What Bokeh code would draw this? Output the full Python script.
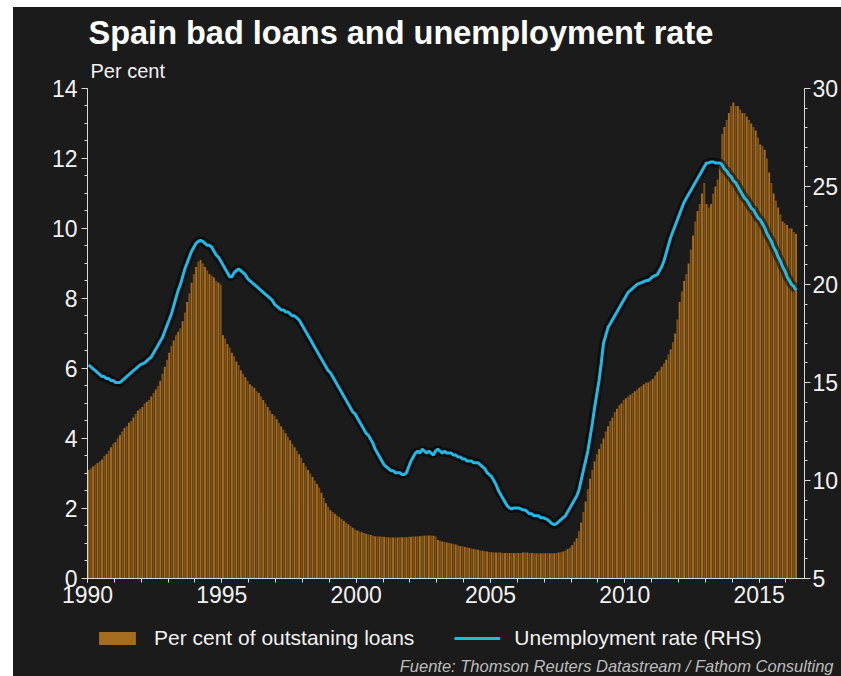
import numpy as np
from bokeh.plotting import figure
from bokeh.layouts import column
from bokeh.models import (Range1d, LinearAxis, FixedTicker, Label, Legend,
                          LegendItem, ColumnDataSource)
from bokeh.embed import file_html
from bokeh.resources import INLINE

# ---------------- data (monthly, from January 1990) ----------------
start_year = 1990
x_ticks = [1990, 1995, 2000, 2005, 2010, 2015]
left_ticks = [0, 2, 4, 6, 8, 10, 12, 14]
right_ticks = [5, 10, 15, 20, 25, 30]

# Bad loans, per cent of outstanding loans (monthly)
bad_loans_1990s = [
    3.10, 3.15, 3.20, 3.25, 3.30, 3.35, 3.40, 3.50, 3.55, 3.65, 3.75, 3.85,  # 1990
    3.90, 4.00, 4.10, 4.20, 4.30, 4.35, 4.45, 4.50, 4.60, 4.70, 4.80, 4.85,  # 1991
    4.90, 5.00, 5.05, 5.10, 5.20, 5.30, 5.40, 5.50, 5.65, 5.85, 6.05, 6.25,  # 1992
    6.45, 6.65, 6.80, 6.95, 7.05, 7.15, 7.35, 7.60, 7.90, 8.15, 8.45, 8.70,  # 1993
    8.90, 9.05, 9.10, 9.00, 8.90, 8.80, 8.70, 8.65, 8.60, 8.50, 8.45, 8.40,  # 1994
    6.95, 6.85, 6.70, 6.60, 6.45, 6.35, 6.20, 6.10, 5.95, 5.85, 5.75, 5.65,  # 1995
    5.55, 5.50, 5.45, 5.35, 5.30, 5.20, 5.10, 5.00, 4.90, 4.80, 4.70, 4.65,  # 1996
    4.55, 4.45, 4.35, 4.25, 4.15, 4.05, 3.95, 3.85, 3.75, 3.65, 3.55, 3.45,  # 1997
    3.30, 3.20, 3.10, 3.00, 2.90, 2.80, 2.70, 2.60, 2.45, 2.30, 2.15, 2.05,  # 1998
    1.95, 1.90, 1.85, 1.80, 1.75, 1.70, 1.65, 1.60, 1.55, 1.50, 1.45, 1.40,  # 1999
]
bad_loans_2000s = [
    1.37, 1.34, 1.32, 1.30, 1.28, 1.26, 1.24, 1.22, 1.21, 1.20, 1.20, 1.19,  # 2000
    1.19, 1.18, 1.18, 1.17, 1.17, 1.17, 1.17, 1.18, 1.18, 1.18, 1.18, 1.19,  # 2001
    1.19, 1.20, 1.20, 1.21, 1.21, 1.22, 1.22, 1.23, 1.23, 1.23, 1.22, 1.20,  # 2002
    1.10, 1.08, 1.06, 1.05, 1.03, 1.02, 1.00, 0.99, 0.97, 0.95, 0.93, 0.92,  # 2003
    0.90, 0.89, 0.87, 0.86, 0.84, 0.83, 0.82, 0.80, 0.79, 0.78, 0.77, 0.76,  # 2004
    0.75, 0.75, 0.74, 0.74, 0.74, 0.73, 0.73, 0.73, 0.73, 0.73, 0.73, 0.73,  # 2005
    0.73, 0.73, 0.74, 0.74, 0.74, 0.73, 0.73, 0.72, 0.72, 0.72, 0.72, 0.72,  # 2006
    0.72, 0.72, 0.72, 0.72, 0.72, 0.73, 0.74, 0.75, 0.77, 0.80, 0.84, 0.88,  # 2007
    0.95, 1.05, 1.15, 1.35, 1.60, 1.90, 2.20, 2.55, 2.85, 3.10, 3.35, 3.55,  # 2008
    3.70, 3.85, 4.00, 4.20, 4.35, 4.50, 4.60, 4.75, 4.85, 4.95, 5.00, 5.10,  # 2009
]
bad_loans_2010s = [
    5.15, 5.20, 5.25, 5.30, 5.35, 5.40, 5.45, 5.50, 5.55, 5.60, 5.60, 5.65,  # 2010
    5.70, 5.80, 5.90, 5.95, 6.05, 6.15, 6.25, 6.40, 6.55, 6.75, 7.00, 7.40,  # 2011
    7.90, 8.20, 8.50, 8.70, 9.00, 9.40, 9.80, 10.20, 10.50, 10.70, 11.00, 11.30,  # 2012
    10.70, 10.60, 10.70, 11.00, 11.20, 11.40, 11.80, 12.70, 12.90, 13.10, 13.30, 13.50,  # 2013
    13.60, 13.50, 13.50, 13.40, 13.30, 13.30, 13.20, 13.10, 13.00, 12.90, 12.80, 12.60,  # 2014
    12.40, 12.35, 12.25, 12.00, 11.60, 11.30, 11.00, 10.80, 10.60, 10.40, 10.20, 10.15,  # 2015
    10.10, 10.00, 10.00, 9.90, 9.85,                                                # 2016
]

# Unemployment rate, per cent (monthly, right-hand scale)
unemp_1990s = [
    15.9, 15.8, 15.7, 15.6, 15.5, 15.4, 15.3, 15.3, 15.2, 15.2, 15.1, 15.1,  # 1990
    15.0, 15.0, 15.0, 15.1, 15.2, 15.3, 15.4, 15.5, 15.6, 15.7, 15.8, 15.9,  # 1991
    15.95, 16.0, 16.1, 16.2, 16.3, 16.5, 16.7, 16.9, 17.1, 17.3, 17.6, 17.9,  # 1992
    18.2, 18.5, 18.9, 19.3, 19.7, 20.0, 20.4, 20.8, 21.1, 21.4, 21.7, 21.9,  # 1993
    22.1, 22.2, 22.25, 22.2, 22.1, 22.0, 22.0, 21.9, 21.7, 21.5, 21.4, 21.2,  # 1994
    21.0, 20.8, 20.6, 20.4, 20.4, 20.6, 20.7, 20.8, 20.7, 20.6, 20.5, 20.3,  # 1995
    20.2, 20.1, 20.0, 19.9, 19.8, 19.7, 19.6, 19.5, 19.4, 19.3, 19.2, 19.0,  # 1996
    18.9, 18.8, 18.7, 18.7, 18.6, 18.6, 18.5, 18.4, 18.4, 18.3, 18.2, 18.0,  # 1997
    17.8, 17.6, 17.4, 17.2, 17.0, 16.8, 16.6, 16.4, 16.2, 16.0, 15.8, 15.6,  # 1998
    15.5, 15.3, 15.1, 14.9, 14.7, 14.5, 14.3, 14.1, 13.9, 13.7, 13.5, 13.4,  # 1999
]
unemp_2000s = [
    13.2, 13.0, 12.8, 12.6, 12.4, 12.3, 12.1, 11.9, 11.6, 11.4, 11.2, 11.0,  # 2000
    10.8, 10.7, 10.6, 10.5, 10.5, 10.4, 10.4, 10.4, 10.3, 10.3, 10.4, 10.7,  # 2001
    11.0, 11.2, 11.4, 11.5, 11.4, 11.6, 11.5, 11.4, 11.5, 11.4, 11.3, 11.5,  # 2002
    11.6, 11.5, 11.4, 11.5, 11.4, 11.4, 11.4, 11.3, 11.3, 11.2, 11.2, 11.1,  # 2003
    11.1, 11.0, 11.0, 11.0, 10.9, 10.9, 10.9, 10.8, 10.7, 10.6, 10.4, 10.3,  # 2004
    10.2, 10.0, 9.8, 9.5, 9.3, 9.1, 8.9, 8.7, 8.6, 8.55, 8.6, 8.6,  # 2005
    8.6, 8.55, 8.5, 8.5, 8.4, 8.3, 8.3, 8.2, 8.2, 8.2, 8.1, 8.1,  # 2006
    8.05, 8.0, 7.9, 7.8, 7.75, 7.8, 7.9, 8.0, 8.1, 8.2, 8.4, 8.6,  # 2007
    8.8, 9.0, 9.2, 9.5, 10.0, 10.5, 11.0, 11.5, 12.2, 12.9, 13.7, 14.4,  # 2008
    15.1, 16.0, 17.0, 17.4, 17.8, 18.0, 18.2, 18.4, 18.6, 18.8, 19.0, 19.2,  # 2009
]
unemp_2010s = [
    19.4, 19.6, 19.7, 19.8, 19.9, 20.0, 20.05, 20.1, 20.15, 20.2, 20.2, 20.3,  # 2010
    20.4, 20.45, 20.5, 20.7, 20.9, 21.2, 21.6, 22.0, 22.4, 22.7, 23.0, 23.3,  # 2011
    23.6, 23.9, 24.2, 24.4, 24.6, 24.8, 25.0, 25.2, 25.4, 25.6, 25.8, 26.0,  # 2012
    26.2, 26.2, 26.25, 26.25, 26.2, 26.2, 26.2, 26.1, 25.9, 25.8, 25.6, 25.5,  # 2013
    25.3, 25.2, 25.0, 24.8, 24.6, 24.4, 24.3, 24.1, 23.9, 23.8, 23.6, 23.4,  # 2014
    23.3, 23.1, 22.9, 22.6, 22.4, 22.2, 21.9, 21.7, 21.4, 21.2, 20.9, 20.7,  # 2015
    20.4, 20.2, 20.0, 19.9, 19.7,                                            # 2016
]

bad_loans = bad_loans_1990s + bad_loans_2000s + bad_loans_2010s
unemployment = unemp_1990s + unemp_2000s + unemp_2010s

title_text = "Spain bad loans and unemployment rate"
unit_text = "Per cent"
bars_label = "Per cent of outstaning loans"
line_label = "Unemployment rate (RHS)"
source_text = "Fuente: Thomson Reuters Datastream / Fathom Consulting"

# ---------------- styling ----------------
BG = "#1b1b1b"
AXIS = "#d9d9d9"
TXT = "#f2f2f2"
FONT = "Liberation Sans"
BAR_A = "#a66d20"
BAR_B = "#825215"
CYAN = "#21b9e6"
W = 828
BG_STYLE = {"background-color": BG}

# ---------------- main chart (frame reaches up to hold the title) ----------------
n = len(bad_loans)
month_idx = np.arange(n)
x_mid = start_year + (month_idx + 0.5) / 12.0
bar_colors = [BAR_A if i % 2 == 0 else BAR_B for i in range(n)]

src_bars = ColumnDataSource(dict(x=x_mid, top=bad_loans, color=bar_colors))
src_line = ColumnDataSource(dict(x=x_mid[:len(unemployment)], y=unemployment))

p = figure(width=W, height=611, output_backend="svg", toolbar_location=None,
           x_range=Range1d(1990, 2016.69), y_range=Range1d(0, 16.314),
           min_border_left=74, min_border_right=36, min_border_top=0,
           min_border_bottom=40, background_fill_color=BG,
           border_fill_color=BG, outline_line_color=None, styles=BG_STYLE)
p.grid.visible = False
p.extra_y_ranges = {"rhs": Range1d(5, 34.13)}

p.vbar(x="x", top="top", bottom=0, width=0.85 / 12, source=src_bars,
       fill_color="color", line_color=None)
p.line(x="x", y="y", source=src_line, y_range_name="rhs",
       line_color="#000000", line_width=9, line_alpha=0.5)
p.line(x="x", y="y", source=src_line, y_range_name="rhs",
       line_color=CYAN, line_width=3)

def style_axis(ax):
    ax.axis_line_color = AXIS
    ax.major_tick_line_color = AXIS
    ax.minor_tick_line_color = AXIS
    ax.major_label_text_color = TXT
    ax.major_label_text_font = FONT
    ax.major_label_text_font_size = "23px"
    ax.major_tick_in = 0
    ax.major_tick_out = 6
    ax.minor_tick_in = 0
    ax.minor_tick_out = 3

p.yaxis.ticker = FixedTicker(ticks=left_ticks,
                             minor_ticks=list(np.arange(0, 14.01, 0.5)))
style_axis(p.yaxis[0])
p.yaxis.bounds = (0, 14)
p.yaxis.major_label_standoff = 4

p.xaxis.ticker = FixedTicker(ticks=x_ticks, minor_ticks=list(range(1990, 2017)))
style_axis(p.xaxis[0])
p.xaxis.major_tick_out = 4
p.xaxis.minor_tick_out = 4
p.xaxis.major_label_standoff = 3

rax = LinearAxis(y_range_name="rhs", bounds=(5, 30),
                 ticker=FixedTicker(ticks=right_ticks, minor_ticks=list(range(5, 31))))
style_axis(rax)
rax.major_label_standoff = 2
p.add_layout(rax, "right")

p.add_layout(Label(x=1, y=546, x_units="screen", y_units="screen", text=title_text,
                   text_font=FONT, text_font_style="bold", text_font_size="32.5px",
                   text_color="#ffffff", text_baseline="middle"))
p.add_layout(Label(x=3, y=508, x_units="screen", y_units="screen", text=unit_text,
                   text_font=FONT, text_font_size="20px", text_color=TXT,
                   text_baseline="middle"))

# ---------------- footer: legend + source ----------------
bot = figure(width=W, height=58, output_backend="svg", toolbar_location=None,
             x_axis_type=None, y_axis_type=None, x_range=Range1d(0, 1),
             y_range=Range1d(0, 1), min_border=0, background_fill_color=BG,
             border_fill_color=BG, outline_line_color=None, styles=BG_STYLE,
             frame_align=False)
bot.grid.visible = False
# legend proxies, kept outside the visible range
r_bar = bot.vbar(x=[-5], top=[-5], width=1, fill_color=BAR_A, line_color=None)
r_line = bot.line(x=[-5, -4], y=[-5, -5], line_color=CYAN, line_width=3)
legend = Legend(items=[LegendItem(label=bars_label, renderers=[r_bar]),
                       LegendItem(label=line_label, renderers=[r_line])],
                orientation="horizontal", location=(81, 26),
                background_fill_alpha=0, border_line_color=None,
                label_text_color=TXT, label_text_font=FONT,
                label_text_font_size="21px", glyph_width=46, glyph_height=16,
                label_standoff=14, spacing=40, padding=9, margin=0)
bot.add_layout(legend)
bot.add_layout(Label(x=W - 8, y=11, x_units="screen", y_units="screen",
                     text=source_text, text_font=FONT, text_font_style="italic",
                     text_font_size="16.5px", text_color="#bdbdbd",
                     text_align="right", text_baseline="middle"))

layout = column(p, bot, spacing=0, margin=(7, 0, 0, 13), styles=BG_STYLE)
open("out.html", "w").write(file_html(layout, INLINE))
